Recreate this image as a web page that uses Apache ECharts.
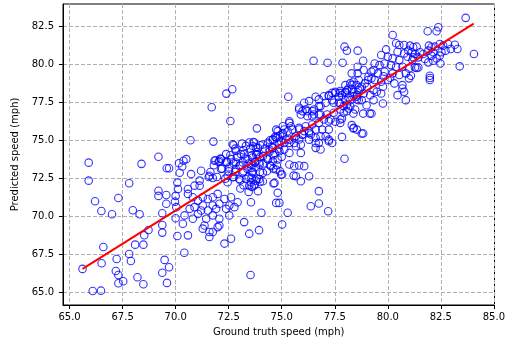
<!DOCTYPE html>
<html>
<head>
<meta charset="utf-8">
<script src="https://cdn.jsdelivr.net/npm/echarts@6/dist/echarts.min.js"></script>
<style>
html,body{margin:0;padding:0;background:#fff;}
#chart{width:508px;height:347px;}
</style>
</head>
<body>
<div id="chart"></div>
<script>
// Tick values
const xTicks = [65, 67.5, 70, 72.5, 75, 77.5, 80, 82.5, 85];
const yTicks = [65, 67.5, 70, 72.5, 75, 77.5, 80, 82.5];
const xTitle = 'Ground truth speed (mph)';
const yTitle = 'Predicted speed (mph)';

// Fitted line endpoints [ground truth, predicted]
const fitLine = [[65.61, 66.56], [84.05, 82.65]];
const fitLabel = 'y=0.87x+9.14';
const fitLabelAt = [77.5, 70];

// Samples: [ground truth speed, predicted speed]
const samplesLow = [
[65.9,73.53],[65.9,72.35],[68.39,73.45],[69.19,73.92],[69.58,73.16],[69.69,73.16],[70.16,73.49],[70.19,72.87],[70.08,72.22],[67.81,72.18],
[69.19,71.69],[69.19,71.35],[69.56,71.41],[70.0,71.35],[66.2,71.0],[66.5,70.36],[67.0,70.14],[67.3,71.21],[67.98,70.41],[68.3,70.14],
[69.37,70.21],[70.0,69.88],[69.37,69.44],[69.37,68.94],[68.72,69.11],[68.52,68.77],[68.48,68.15],[68.09,68.15],[70.08,68.72],[66.59,68.0],
[65.61,66.56],[66.51,66.93],[67.22,67.21],[67.81,67.54],[67.89,67.08],[67.18,66.42],[67.3,66.16],[67.3,65.62],[67.53,65.75],[68.2,66.01],
[68.48,65.55],[66.09,65.11],[66.48,65.13],[69.48,67.15],[69.69,66.67],[69.37,66.31],[69.59,65.64],[69.97,70.97],[70.41,67.62]
];
const samplesMidLeft = [
[72.67,78.35],[72.39,78.06],[71.7,77.17],[72.58,76.26],[73.83,75.78],[70.7,75.0],[71.78,74.91],[70.37,73.65],[70.5,73.76],[70.31,73.28],
[70.73,72.78],[71.2,73.0],[71.13,72.35],[71.13,72.02],[70.89,72.02],[71.59,72.67],[71.75,72.52],[72.06,73.65],[72.14,73.76],[71.83,73.65],
[72.38,74.09],[72.69,74.74],[72.84,74.3],[73.08,74.09],[73.31,74.63],[73.47,74.85],[73.7,74.85],[73.78,74.52],[72.61,73.76],[72.84,73.54],
[73.16,73.54],[73.39,73.76],[73.63,73.87],[73.86,74.09],[72.53,73.22],[72.84,73.11],[73.16,72.89],[73.39,73.11],[73.63,72.89],[73.78,73.22],
[72.45,72.67],[72.69,72.57],[73.0,72.46],[73.31,72.46],[73.55,72.24],[73.78,72.35],[73.47,72.02],[73.7,72.02],[73.94,72.46],[72.38,73.54],
[72.14,73.11],[72.45,72.24],[73.0,73.33],[73.23,74.09],[73.55,73.43],[73.94,73.54],
[70.11,71.8],[70.58,71.8],[70.58,71.48],[70.81,71.26],[71.05,71.04],[71.28,71.26],[71.52,71.15],[71.75,71.26],[71.98,71.48],[72.3,71.15],
[72.61,71.26],[72.92,70.93],[71.28,70.72],[71.75,70.72],[72.06,70.83],[72.53,70.72],[72.77,70.61],[73.55,70.93],[69.56,70.83],[70.03,70.61],
[70.66,70.5],[70.89,70.61],[71.2,70.39],[71.52,70.39],[71.91,70.5],[72.38,70.5],[71.05,70.17],[71.44,69.85],[71.75,70.07],[70.42,70.07],
[70.81,69.85],[72.06,69.85],[72.53,70.07],[70.34,69.52],[71.36,69.41],[72.06,69.41],[71.28,69.2],[71.59,68.98],[71.75,68.98],[71.98,69.3],
[70.58,68.76],[71.59,68.65],[73.23,69.63],[73.47,68.87],[72.3,68.22],[72.61,68.54],[73.53,66.16]
];
const samplesCluster = [
[72.73,74.67],[73.13,74.78],[73.67,74.89],[73.98,74.67],[74.45,75.0],[74.69,75.22],[74.92,75.33],
[72.81,74.45],[73.2,74.34],[73.52,74.45],[73.83,74.23],[74.22,74.45],[74.53,74.56],[74.84,74.45],
[71.88,73.69],[72.11,73.8],[72.58,74.02],[72.89,73.91],[73.28,73.8],[73.59,74.02],[73.98,73.91],[74.3,73.8],[74.61,74.02],[75.0,73.91],
[71.8,73.36],[72.03,73.58],[72.42,73.58],[72.73,73.47],[73.05,73.36],[73.44,73.47],[73.75,73.58],[74.14,73.47],[74.45,73.36],[74.77,73.36],
[71.64,72.92],[72.19,73.14],[72.5,72.97],[72.81,72.92],[73.2,72.97],[73.59,72.92],[73.98,72.92],[74.3,72.97],[74.61,73.14],[74.92,72.97],
[71.56,72.59],[71.95,72.59],[72.34,72.48],[72.73,72.59],[73.05,72.37],[73.44,72.59],[73.83,72.48],
[73.2,72.05],[73.59,71.94],[73.98,72.26],[74.61,72.16],[73.44,71.61],[73.05,71.83]
];
const samplesMid = [
[75.31,77.85],[76.5,80.22],[77.16,80.09],[77.3,78.99],
[76.06,77.46],[76.29,77.57],[76.6,77.85],[76.75,77.68],[76.99,77.89],[77.38,78.11],[77.76,78.11],[75.82,77.13],[75.98,76.91],[76.21,76.91],
[76.52,77.02],[76.83,77.24],[76.44,76.58],[76.75,76.69],[76.99,76.36],[77.22,76.25],[77.92,76.8],[78.07,77.35],[77.45,77.46],
[75.36,76.25],[75.43,75.92],[75.12,75.71],[75.82,75.71],[76.06,75.6],[76.29,75.6],[76.37,75.38],[76.6,75.16],[76.75,74.83],[76.6,74.5],
[76.83,74.39],[77.22,74.94],
[73.65,74.61],[73.88,74.5],[74.11,74.72],[74.35,74.83],[74.58,75.05],[74.74,75.16],[74.97,74.94],[75.2,75.05],[75.36,74.83],[75.59,75.16],
[75.82,75.05],[75.98,75.38],[75.05,75.38],[74.81,75.6],[74.43,74.39],[74.66,74.17],[74.89,74.28],[75.12,74.39],[75.36,74.17],[75.67,74.61],
[75.9,74.17],[73.8,74.06],[74.11,73.95],[74.35,73.74],[74.58,73.63],[74.81,73.74],[74.5,73.3],[74.74,73.08],[74.97,72.75],[74.11,72.86],
[73.73,73.52],[73.57,73.19],[73.96,73.41],[75.36,73.41],[75.59,73.3],[75.82,73.34],[76.06,73.3],[75.67,72.64],[75.9,72.31],[76.29,72.64],
[75.56,72.68],[75.02,72.75],[74.66,72.2],[74.11,72.31],[73.73,72.1],[73.57,72.53],[73.88,71.66],[74.04,70.24],[73.93,69.1],[74.81,71.55],
[74.74,70.89],[74.89,70.89],[75.28,70.24],[75.02,69.47],[76.75,71.66],[76.37,70.67],[76.75,70.85],[77.19,70.34]
];
const samplesBand = [
[76.13,77.02],[76.44,76.91],[75.82,77.02],[75.9,76.69],[76.21,76.58],[76.52,76.69],[76.83,76.69],[76.75,77.24],[77.07,77.46],[77.22,77.9],
[77.53,78.12],[77.76,78.23],[78.0,78.12],[78.31,78.34],[78.15,77.79],[78.39,77.9],[78.54,77.68],[77.69,77.46],[77.92,77.24],[78.23,77.24],
[78.46,77.02],[78.07,76.91],[77.76,77.02],[77.45,76.8],[77.14,76.69],[77.3,76.36],[77.76,76.36],[76.75,76.14],[76.44,76.03],[76.13,75.92],
[75.82,75.81],[75.51,75.7],[75.28,75.59],[75.05,75.48],[74.81,75.26],[74.58,75.04],[75.36,76.14],[75.05,75.92],[74.74,75.7],[75.67,75.26],
[75.98,75.37],[76.29,75.48],[76.6,75.7],[76.91,75.7],[77.22,75.7],[75.36,75.04],[74.89,74.71],[74.58,74.49],[74.43,74.27],[75.12,74.82],
[75.59,74.82],[75.9,74.71],[76.29,75.04],[76.6,74.82],[76.83,75.26],[77.07,75.26],[77.76,76.14],[78.39,75.81],[78.54,75.7],[77.22,75.04],[77.38,74.82]
];
const samplesHigh = [
[80.23,81.91],[77.96,81.14],[78.07,80.88],[78.58,80.88],[78.84,80.22],[77.87,80.09],[78.58,79.82],[78.3,79.39],[78.58,79.39],
[79.92,80.96],[80.39,81.36],[80.54,81.25],[80.77,81.25],[80.46,80.81],[80.77,80.7],[79.69,80.59],[80.0,80.48],[80.23,80.37],[80.54,80.26],
[80.93,80.48],[81.16,80.26],[79.38,80.04],[79.61,79.93],[79.85,80.04],[80.15,79.93],[80.39,79.82],[80.69,79.82],[81.0,79.71],[79.23,79.5],
[79.54,79.39],[79.85,79.5],[80.23,79.39],[80.54,79.28],[80.85,79.39],[79.38,78.95],[79.69,78.84],[80.0,78.95],[80.31,78.73],[80.69,78.62],
[81.0,79.06],[80.69,78.4],[80.77,78.18],[80.46,77.96],[80.85,77.63],[79.77,78.51],[79.69,78.07],[79.77,77.41],[79.23,79.06],[79.07,78.95],
[78.92,78.73],[78.77,78.51],[78.53,78.62],[78.3,78.62],[78.61,78.29],[78.38,78.18],[78.15,78.4],[78.0,78.18],[77.84,77.96],[77.53,78.18],
[77.69,77.85],[77.38,77.63],[77.22,77.96],[77.76,77.41],[78.0,77.63],[78.23,77.63],[78.53,77.85],[78.77,77.63],[79.0,77.3],[78.15,77.08],
[78.38,76.75],[77.84,76.43],[77.53,76.21],[78.84,76.75],[79.15,76.75],[79.23,76.75],[78.3,75.99],[78.38,75.77],[78.77,75.44],[78.84,75.44],
[77.84,75.22],[77.96,73.79],
[83.67,83.03],[84.06,80.66],[83.39,79.85],[81.88,82.15],[82.3,82.15],[82.38,82.41],
[82.45,81.32],[82.61,81.21],[82.84,81.32],[83.16,81.27],[83.28,80.99],[82.97,80.99],[82.72,80.88],[82.53,80.77],[82.45,80.55],[82.48,80.04],
[82.3,80.37],[82.06,80.55],[81.91,80.11],[82.14,80.22],
[81.05,81.21],[81.2,81.1],[81.36,81.14],[80.97,80.88],[81.13,80.77],[81.28,80.66],[81.52,80.77],[81.67,80.66],[81.44,80.44],[81.2,80.44],
[81.75,80.33],[81.28,79.78],[81.36,79.74],[81.44,79.78],[81.09,79.23],[81.98,79.23],[81.98,79.08],[81.98,78.95],
[81.94,81.21],[82.06,81.1],[82.22,81.14],[81.91,80.88],[82.14,80.77]
];
const samplesUpper = [
[78.0,78.62],[78.23,78.73],[78.39,78.84],[78.63,78.95],[78.08,78.29],[78.7,78.4],[79.02,78.51],[79.33,78.29],[78.55,77.96],[78.86,78.07],
[79.17,77.96],[79.48,78.18],[78.63,77.63],[79.33,77.63],[79.09,79.17],[78.86,79.61],[79.33,79.61],[79.8,79.2],[80.11,79.1]
];

const samples = samplesLow.concat(samplesMidLeft, samplesCluster, samplesMid, samplesBand, samplesHigh, samplesUpper);

const chart = echarts.init(document.getElementById('chart'), null, {renderer: 'canvas'});
const fontFamily = 'DejaVu Sans';
const fmt = v => v.toFixed(1);

chart.setOption({
  animation: false,
  backgroundColor: '#fff',
  textStyle: {fontFamily: fontFamily},
  grid: {left: 63, right: 11, top: 4, bottom: 42, show: true, borderColor: '#000', borderWidth: 1, backgroundColor: 'transparent'},
  xAxis: {
    type: 'value', min: 64.69, max: 85.03,
    name: xTitle, nameLocation: 'middle', nameGap: 22,
    nameTextStyle: {fontSize: 10, color: '#000', fontFamily: fontFamily},
    axisLine: {show: true, onZero: false, lineStyle: {color: '#000', width: 1}},
    axisTick: {show: true, inside: false, length: 4, customValues: xTicks, lineStyle: {color: '#000'}},
    axisLabel: {show: true, margin: 7, fontSize: 10, color: '#000', fontFamily: fontFamily, customValues: xTicks, formatter: fmt},
    splitLine: {show: true, lineStyle: {color: '#b0b0b0', type: [4, 2], width: 1}}
  },
  yAxis: {
    type: 'value', min: 64.19, max: 83.94,
    name: yTitle, nameLocation: 'middle', nameGap: 37, nameRotate: 90,
    nameTextStyle: {fontSize: 10, color: '#000', fontFamily: fontFamily},
    axisLine: {show: true, onZero: false, lineStyle: {color: '#000', width: 1}},
    axisTick: {show: true, inside: false, length: 4, customValues: yTicks, lineStyle: {color: '#000'}},
    axisLabel: {show: true, margin: 9, fontSize: 10, color: '#000', fontFamily: fontFamily, customValues: yTicks, formatter: fmt},
    splitLine: {show: true, lineStyle: {color: '#b0b0b0', type: [4, 2], width: 1}}
  },
  series: [
    {
      type: 'scatter',
      data: samples,
      symbol: 'circle',
      symbolSize: 7.5,
      itemStyle: {color: 'rgba(0,0,0,0)', borderColor: '#0000ff', borderWidth: 1.1},
      silent: true
    },
    {
      type: 'line',
      data: fitLine,
      symbol: 'none',
      lineStyle: {color: '#ff0000', width: 2},
      silent: true,
      z: 5
    },
    {
      type: 'scatter',
      data: [fitLabelAt],
      symbolSize: 1,
      itemStyle: {opacity: 0},
      label: {show: true, position: 'right', distance: 0, offset: [0, -4], formatter: fitLabel, fontSize: 10, color: '#000', fontFamily: fontFamily},
      silent: true,
      z: 6
    }
  ]
});
</script>
</body>
</html>
